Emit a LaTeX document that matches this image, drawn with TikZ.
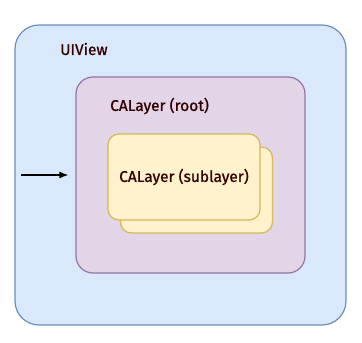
\documentclass[tikz,border=0pt]{standalone}
\usepackage{fontspec}
\setmainfont{Fira Sans}
\newfontfamily\lblfont{Fira Sans}[FakeBold=0.9]
\usepackage{tikz}
\usetikzlibrary{arrows.meta,positioning}

\definecolor{viewfill}{HTML}{DAE8FC}
\definecolor{viewline}{HTML}{6C8EBF}
\definecolor{rootfill}{HTML}{E1D5E7}
\definecolor{rootline}{HTML}{9673A6}
\definecolor{subfill}{HTML}{FFF2CC}
\definecolor{subline}{HTML}{D6B656}
\definecolor{labeltext}{HTML}{330000}

\begin{document}
\begin{tikzpicture}[
    x=1pt, y=-1pt,
    box/.style={
        draw,
        line width=1.2pt,
        inner sep=0pt
    },
    viewbox/.style={box, fill=viewfill, draw=viewline, rounded corners=24pt,
        minimum width=331pt, minimum height=300pt},
    rootbox/.style={box, fill=rootfill, draw=rootline, rounded corners=17pt,
        minimum width=229pt, minimum height=196pt},
    subbox/.style={box, fill=subfill, draw=subline, rounded corners=11pt,
        minimum width=152pt, minimum height=86pt},
    lbl/.style={text=labeltext, font=\lblfont\fontsize{15.5}{18}\selectfont, inner sep=0pt},
    >={Latex[length=9pt,width=7pt]}
]
\useasboundingbox (0,0) rectangle (362,343);

\node[viewbox] (uiview) at (180.5,175) {};
\node[rootbox] (root) at (190.5,175) {};
\node[subbox] (subback) at (196.5,190) {};
\node[subbox] (sub) at (184,177) {};

\node[lbl, anchor=west] (viewlbl) at (60,49) {UIView};
\node[lbl, anchor=west] (rootlbl) at (110,106) {CALayer (root)};
\node[lbl] (sublbl) at (sub.center) {CALayer (sublayer)};

\coordinate (src) at (21,175);
\draw[->, line width=1.3pt, shorten >=7pt] (src) -- (root.west);

\end{tikzpicture}
\end{document}
